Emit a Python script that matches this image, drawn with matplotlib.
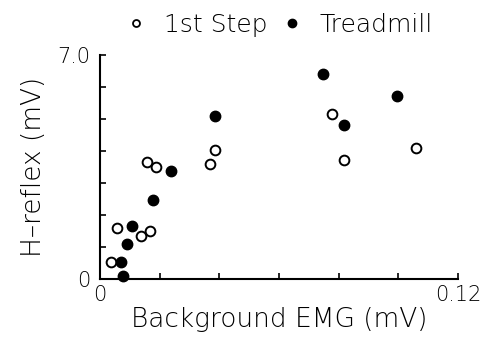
import matplotlib
matplotlib.use("Agg")
import matplotlib.pyplot as plt
from matplotlib.lines import Line2D

# Data
step_x = [0.0037, 0.0058, 0.0137, 0.0168, 0.0157, 0.0188, 0.0369, 0.0387, 0.0777, 0.0818, 0.1058]
step_y = [0.53, 1.58, 1.35, 1.50, 3.66, 3.49, 3.58, 4.04, 5.15, 3.71, 4.10]
tread_x = [0.0070, 0.0078, 0.0090, 0.0108, 0.0177, 0.0237, 0.0386, 0.0747, 0.0818, 0.0997]
tread_y = [0.52, 0.09, 1.09, 1.67, 2.48, 3.38, 5.09, 6.41, 4.81, 5.73]
series_names = ["1st Step", "Treadmill"]
x_ticks = [0, 0.02, 0.04, 0.06, 0.08, 0.10, 0.12]
y_ticks = [0, 1, 2, 3, 4, 5, 6, 7]
x_ticklabels = ["0", "", "", "", "", "", "0.12"]
y_ticklabels = ["0", "", "", "", "", "", "", "7.0"]

plt.rcParams['font.family'] = ['DejaVu Sans']
plt.rcParams['font.weight'] = 'light'
plt.rcParams['axes.labelweight'] = 'light'

fig = plt.figure(figsize=(4.91, 3.37), dpi=100)
W, H = 491, 337
ax = fig.add_axes([100 / W, 1 - 279 / H, 358 / W, 224 / H])

ax.plot(step_x, step_y, linestyle='none', marker='o', markersize=7,
        markerfacecolor='white', markeredgecolor='black', markeredgewidth=1.4, clip_on=False)
ax.plot(tread_x, tread_y, linestyle='none', marker='o', markersize=7.5,
        markerfacecolor='black', markeredgecolor='black', clip_on=False)

ax.set_xlim(0, 0.12)
ax.set_ylim(0, 7.0)
ax.set_xticks(x_ticks)
ax.set_xticklabels(x_ticklabels)
ax.set_yticks(y_ticks)
ax.set_yticklabels(y_ticklabels)

for s in ['top', 'right']:
    ax.spines[s].set_visible(False)
for s in ['left', 'bottom']:
    ax.spines[s].set_linewidth(1.5)

ax.tick_params(axis='both', direction='in', length=4, width=1.2, labelsize=15)
ax.tick_params(axis='y', pad=7)
ax.tick_params(axis='x', pad=4)

ax.set_xlabel("Background EMG (mV)", fontsize=19, fontweight='light', labelpad=2)
ax.set_ylabel("H\u2013reflex (mV)", fontsize=19, fontweight='light', labelpad=8)

handles = [
    Line2D([], [], linestyle='none', marker='o', markersize=5, markerfacecolor='white',
           markeredgecolor='black', markeredgewidth=1.3),
    Line2D([], [], linestyle='none', marker='o', markersize=6, markerfacecolor='black',
           markeredgecolor='black'),
]
fig.legend(handles, series_names, loc='center', bbox_to_anchor=(281 / W, 1 - 25 / H),
           ncol=2, frameon=False, fontsize=18, handlelength=0.6, handletextpad=0.8,
           columnspacing=0.7, borderpad=0)

fig.savefig("out.png", dpi=100)
